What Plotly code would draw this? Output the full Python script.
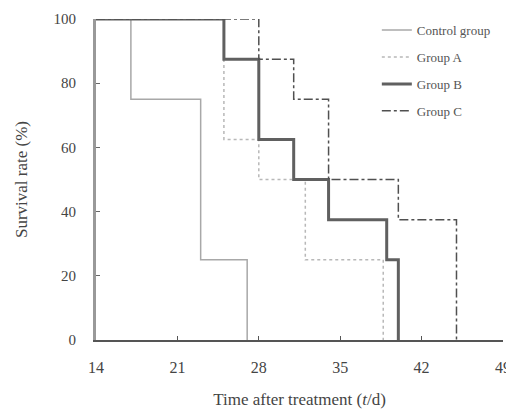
import plotly.graph_objects as go

# Data (Kaplan-Meier style step curves)
control_x = [14, 17, 23, 27]
control_y = [100, 75, 25, 0]
groupA_x = [14, 25, 28, 32, 38.7]
groupA_y = [100, 62.5, 50, 25, 0]
groupB_x = [14, 25, 28, 31, 34, 39, 40]
groupB_y = [100, 87.5, 62.5, 50, 37.5, 25, 0]
groupC_x = [14, 28, 31, 34, 40, 45]
groupC_y = [100, 87.5, 75, 50, 37.5, 0]

x_ticks = [14, 21, 28, 35, 42, 49]
y_ticks = [0, 20, 40, 60, 80, 100]

FONT = "Liberation Serif"

fig = go.Figure()
fig.add_trace(go.Scatter(x=control_x, y=control_y, mode="lines", line_shape="hv",
                         name="Control group", legendgroup="c",
                         line=dict(color="#a8a8a8", width=1.5)))
fig.add_trace(go.Scatter(x=groupA_x, y=groupA_y, mode="lines", line_shape="hv",
                         name="Group A", legendgroup="a",
                         line=dict(color="#b8b8b8", width=1.5, dash="dot")))
fig.add_trace(go.Scatter(x=groupB_x, y=groupB_y, mode="lines", line_shape="hv",
                         name="Group B", legendgroup="b",
                         line=dict(color="#606060", width=3)))
fig.add_trace(go.Scatter(x=groupC_x, y=groupC_y, mode="lines", line_shape="hv",
                         name="Group C", legendgroup="cc",
                         line=dict(color="#505050", width=1.5, dash="dashdot")))

fig.update_layout(
    width=506, height=404,
    margin=dict(l=88, r=11, t=7, b=72),
    paper_bgcolor="white", plot_bgcolor="white",
    font=dict(family=FONT, color="#444"),
    legend=dict(x=0.69, y=1.012, xanchor="left", yanchor="top",
                font=dict(family=FONT, size=13, color="#555"),
                bgcolor="rgba(0,0,0,0)", tracegroupgap=7),
    showlegend=True,
)
fig.update_xaxes(
    range=[14, 49], tickvals=x_ticks, ticktext=[str(v) for v in x_ticks],
    showgrid=False, zeroline=False, showline=True, linecolor="#555", linewidth=1.5,
    ticks="inside", ticklen=4, tickcolor="#555", automargin=False,
    tickfont=dict(family=FONT, size=16, color="#444"), ticklabelstandoff=12,
    title=dict(text="Time after treatment (<i>t</i>/d)", font=dict(family=FONT, size=17, color="#444"), standoff=18),
)
fig.update_yaxes(
    range=[0, 100], tickvals=y_ticks,
    showgrid=False, zeroline=False, showline=True, linecolor="#999", linewidth=3,
    ticks="inside", ticklen=4, tickcolor="#666", automargin=False,
    tickfont=dict(family=FONT, size=15, color="#444"), ticklabelstandoff=14,
    title=dict(text="Survival rate (%)", font=dict(family=FONT, size=17, color="#444"), standoff=22),
)

fig.write_html("out.html")
